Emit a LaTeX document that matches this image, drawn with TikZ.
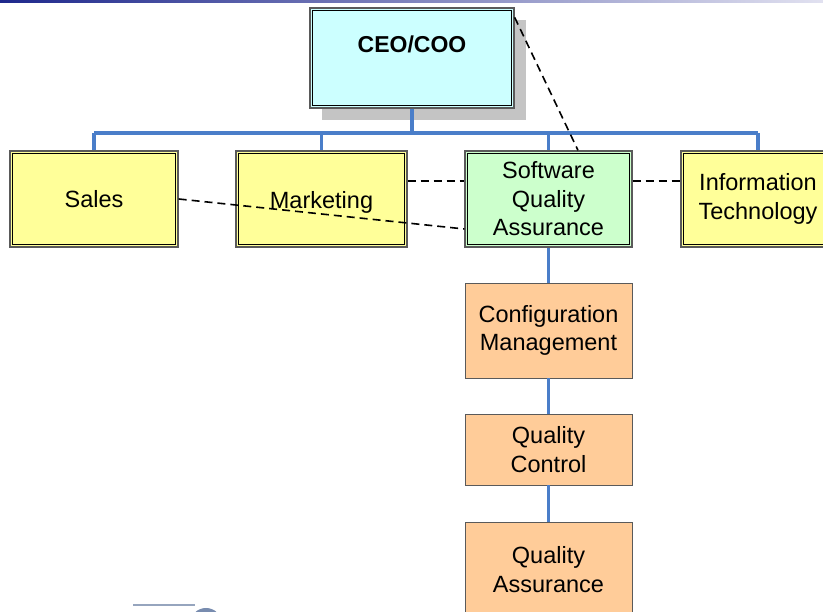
\documentclass[tikz,border=0pt]{standalone}
\usepackage{fontspec}
\setmainfont{Liberation Sans}
\usetikzlibrary{calc}
\definecolor{ceofill}{HTML}{CCFFFF}
\definecolor{yel}{HTML}{FFFF99}
\definecolor{grn}{HTML}{CCFFCC}
\definecolor{org}{HTML}{FFCC99}
\definecolor{bus}{HTML}{4A7EC9}
\definecolor{bord}{HTML}{5A5A5A}
\definecolor{shadowgray}{HTML}{C4C4C4}
\begin{document}
\begin{tikzpicture}[x=1pt,y=1pt,
  txt/.style={font=\fontsize{23.5}{28.5}\selectfont, align=center, inner sep=0pt},
  dbox/.style={txt, draw=bord, line width=1.3pt, minimum width=#1},
  obox/.style={txt, draw=bord, line width=0.8pt, fill=org, minimum width=167pt},
  conn/.style={draw=bus, line width=3.6pt},
  dashrel/.style={draw=black, line width=1.6pt, dash pattern=on 8pt off 5pt}
]
\useasboundingbox (0,0) rectangle (823,612);
\clip (0,0) rectangle (823,612);
% top rule
\shade[left color={rgb,255:red,30;green,40;blue,140}, right color={rgb,255:red,225;green,225;blue,240}] (0,609.5) rectangle (823,612);
% CEO shadow and box
\fill[shadowgray] (322,492) rectangle (526,592);
\node[dbox=204pt, fill=ceofill, minimum height=100pt] (ceo) at (412,554) {};
\node[font=\bfseries\fontsize{23}{27}\selectfont] (ceot) at (412,568) {CEO/COO};
% second level
\node[dbox=168pt, fill=yel, minimum height=96pt] (sales) at (94,413) {Sales};
\node[dbox=171pt, fill=yel, minimum height=96pt] (mkt) at (321.5,413) {\raisebox{-3pt}[\height][\depth]{Marketing}};
\node[dbox=167pt, fill=grn, minimum height=96pt] (sqa) at (548.5,413) {Software\\Quality\\Assurance};
\node[dbox=154pt, fill=yel, minimum height=96pt] (it) at (758,413) {Information\\Technology};
% third level
\node[obox, minimum height=95pt] (cm) at (548.5,281.5) {Configuration\\Management};
\node[obox, minimum height=71pt] (qc) at (548.5,162.5) {Quality\\Control};
\node[obox, minimum height=95pt] (qa) at (548.5,42.5) {Quality\\Assurance};
% inner borders
\foreach \n in {ceo,sales,mkt,sqa,it}{
  \draw[black, line width=0.8pt] ($(\n.north west)+(2.8,-2.8)$) rectangle ($(\n.south east)+(-2.8,2.8)$);
}
% connectors
\coordinate (busl) at (94,479);
\coordinate (busr) at (758,479);
\draw[conn] (ceo.south) -- (ceo.south |- busl);
\draw[conn] (busl) -- (busr);
\draw[conn] (busl) -- (sales.north);
\draw[conn] (mkt.north |- busl) -- (mkt.north);
\draw[conn] (sqa.north |- busl) -- (sqa.north);
\draw[conn] (busr) -- (it.north);
\draw[conn] (sqa.south) -- (cm.north);
\draw[conn] (cm.south) -- (qc.north);
\draw[conn] (qc.south) -- (qa.north);
% dashed relations
\draw[dashrel] ($(ceo.north east)+(0,-10)$) -- ($(sqa.north)+(29.5,0)$);
\draw[dashrel] ($(mkt.east)+(0,18)$) -- ($(sqa.west)+(0,18)$);
\draw[dashrel] ($(sqa.east)+(0,18)$) -- ($(it.west)+(0,18)$);
\draw[dashrel] (sales.east) -- ($(sqa.west)+(0,-30)$);
% logo fragment
\draw[color={rgb,255:red,150;green,165;blue,190}, line width=1.2pt] (133,7) -- (195,7);
\fill[color={rgb,255:red,120;green,140;blue,175}] (206,-12) circle (16);
\end{tikzpicture}
\end{document}
